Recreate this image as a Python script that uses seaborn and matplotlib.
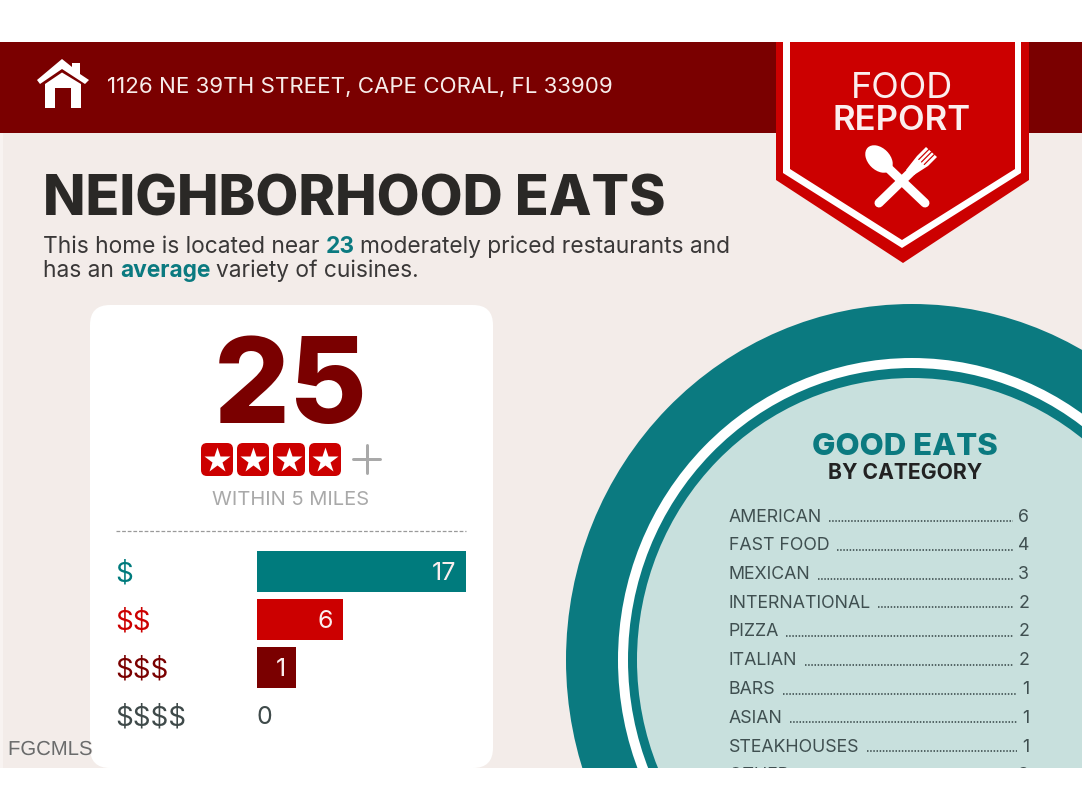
import matplotlib
matplotlib.use('Agg')
import matplotlib.pyplot as plt
import matplotlib.patheffects as pe
from matplotlib.patches import Ellipse, FancyBboxPatch, Polygon, Rectangle
import pandas as pd
import seaborn as sns

# price tiers: printed counts, and bar lengths as drawn on the 0-17 axis
price_tiers = ['$', '$$', '$$$', '$$$$']
tier_counts = [17, 6, 1, 0]
bar_lengths = [17, 7.0, 3.17, 0]

# good eats by category (last row is cut off in the picture)
categories = ['AMERICAN', 'FAST FOOD', 'MEXICAN', 'INTERNATIONAL', 'PIZZA',
              'ITALIAN', 'BARS', 'ASIAN', 'STEAKHOUSES', 'OTHER']
category_counts = [6, 4, 3, 2, 2, 2, 1, 1, 1, 3]

DARK_RED = '#7a0000'
RED = '#cc0000'
TEAL = '#0b7a80'
PALE_TEAL = '#c8e0dd'
BACKGROUND = '#f3ecE9'
INK = '#2a2826'
SLATE = '#3f4f50'
GREY = '#a9a9a9'
tier_colors = ['#007b7d', RED, DARK_RED, '#3f4a4a']

sns.set_theme(style='white')
plt.rcParams['font.family'] = ['Inter', 'DejaVu Sans']
plt.rcParams['text.parse_math'] = False  # the dollar labels are plain text

W, H = 1082, 811
fig = plt.figure(figsize=(W / 100, H / 100), dpi=100, facecolor='white')

# overlay in image pixels for the infographic furniture
ax = fig.add_axes([0, 0, 1, 1], zorder=0)
ax.set_xlim(0, W)
ax.set_ylim(H, 0)
ax.axis('off')


def px(size):
    # pixel lengths to points at 100 dpi
    return size * 0.72


def text_runs(x, y, runs, size):
    """Draw bits of text one after another on a baseline."""
    renderer = fig.canvas.get_renderer()
    inv = ax.transData.inverted()
    for s, color, weight in runs:
        t = ax.text(x, y, s, fontsize=size, color=color, fontweight=weight,
                    va='baseline', ha='left', zorder=3)
        box = t.get_window_extent(renderer)
        x = inv.transform((box.x1, box.y0))[0] + size * 0.36


# page background and header band
ax.add_patch(Rectangle((0, 133), W, 635, fc=BACKGROUND, ec='none', zorder=1))
ax.add_patch(Rectangle((0, 133), 3, 635, fc='#f8f3f1', ec='none', zorder=1))
ax.add_patch(Rectangle((0, 42), W, 91, fc=DARK_RED, ec='none', zorder=1))

# house icon
roof = [(37, 80), (62, 59), (72, 67), (72, 63), (80, 63), (80, 74), (89, 80),
        (85, 84), (62, 69), (40, 84)]
body = [(45, 108), (45, 84), (62, 72.5), (81, 84), (81, 108), (71, 108),
        (71, 88), (55, 88), (55, 108)]
ax.add_patch(Polygon(roof, fc='white', ec='none', zorder=2))
ax.add_patch(Polygon(body, fc='white', ec='none', zorder=2))
ax.text(107, 93, '1126 NE 39TH STREET, CAPE CORAL, FL 33909', fontsize=16.07,
        color='#f7ecea', va='baseline', zorder=2)

# food report ribbon
ax.add_patch(Polygon([(776, 42), (1029, 42), (1029, 180), (903, 263), (776, 180)],
                     fc=RED, ec='none', zorder=2))
ax.add_patch(Polygon([(783, 42), (790, 42), (790, 169), (902, 240), (1015, 169),
                      (1015, 42), (1021, 42), (1021, 173), (902, 248), (783, 173)],
                     fc='white', ec='none', zorder=3))
ax.text(902, 98, 'FOOD', fontsize=26, color='#fbeeee', ha='center', va='baseline', zorder=3)
ax.text(902, 130, 'REPORT', fontsize=25, color='#fbeeee', fontweight='semibold',
        ha='center', va='baseline', zorder=3)
# fork under the spoon
ax.plot([879, 912], [203, 171], color='white', lw=px(9), solid_capstyle='round', zorder=3)
ax.add_patch(Polygon([(906, 170), (917, 156), (926, 147), (937, 157), (928, 166), (914, 175)],
                     fc='white', ec='none', zorder=3))
for tip_x, tip_y in [(928.75, 149.5), (931.5, 152), (934.25, 154.5)]:
    ax.plot([tip_x, tip_x - 10], [tip_y, tip_y + 10], color=RED, lw=px(1.2), zorder=3)
ax.plot([885, 925], [165, 203], color='white', lw=px(9), solid_capstyle='round', zorder=3)
ax.add_patch(Ellipse((879, 159), 32, 22, angle=45, fc='white', ec='none', zorder=3))

# headline
ax.text(43, 215, 'NEIGHBORHOOD EATS', fontsize=40, color=INK, fontweight=800,
        va='baseline', zorder=3)
text_runs(43, 253, [('This home is located near', '#3a3838', 'normal'),
                    ('23', TEAL, 'bold'),
                    ('moderately priced restaurants and', '#3a3838', 'normal')], 16.4)
text_runs(43, 277, [('has an', '#3a3838', 'normal'),
                    ('average', TEAL, 'bold'),
                    ('variety of cuisines.', '#3a3838', 'normal')], 16.4)

# card
ax.add_patch(FancyBboxPatch((110, 325), 363, 423, boxstyle='round,pad=20,rounding_size=20',
                            fc='white', ec='none', zorder=2))
ax.text(291, 423, '25', fontsize=86, color=DARK_RED, fontweight='heavy', ha='center',
        va='baseline', zorder=3)
for i in range(4):
    ax.add_patch(FancyBboxPatch((206 + i * 36, 448), 22, 23, boxstyle='round,pad=5,rounding_size=6',
                                fc=RED, ec='none', zorder=3))
    ax.plot(217 + i * 36, 459.5, marker='*', ms=px(27), mfc='white', mec='none', zorder=4)
ax.plot([353, 380], [459, 459], color=GREY, lw=px(3), zorder=3)
ax.plot([366.5, 366.5], [445, 473], color=GREY, lw=px(3), zorder=3)
ax.text(291, 505, 'WITHIN 5 MILES', fontsize=14.5, color=GREY, ha='center', va='baseline', zorder=3)
ax.plot([116, 466], [531, 531], color='#9a9a9a', lw=0.9, ls=(0, (3, 1.5)), zorder=3)

# plate with the category list
centre = (912, 660)
for rx, ry, col in [(346, 356, TEAL), (294, 302, 'white'), (284, 292, TEAL), (275, 282, PALE_TEAL)]:
    ax.add_patch(Ellipse(centre, rx * 2, ry * 2, fc=col, ec='none', zorder=2))
ax.text(905, 455, 'GOOD EATS', fontsize=22.5, color=TEAL, fontweight=800, ha='center',
        va='baseline', zorder=3)
ax.text(905, 479, 'BY CATEGORY', fontsize=15.2, color='#222222', fontweight='bold', ha='center',
        va='baseline', zorder=3)

fig.canvas.draw()
renderer = fig.canvas.get_renderer()
inv = ax.transData.inverted()
for i, (name, count) in enumerate(zip(categories, category_counts)):
    y = 521.5 + i * 28.75
    label = ax.text(729, y, name, fontsize=12.8, color=SLATE, va='baseline', zorder=3)
    value = ax.text(1029, y, str(count), fontsize=12.8, color=SLATE, ha='right', va='baseline', zorder=3)
    x0 = inv.transform((label.get_window_extent(renderer).x1, 0))[0] + 7
    x1 = inv.transform((value.get_window_extent(renderer).x0, 0))[0] - 5
    ax.plot([x0, x1], [y - 0.5, y - 0.5], color=SLATE, lw=1.2, ls=(0, (0.9, 1.0)), zorder=3)

# thin scan edge on the right, white margin under the picture
ax.plot([1081.5, 1081.5], [133, 768], color='#9c9c9c', lw=0.7, zorder=5)
ax.add_patch(Rectangle((0, 768), W, H - 768, fc='white', ec='none', zorder=6))
ax.text(8, 755, 'FGCMLS', fontsize=14.6, color='#6b6b6b', family='Liberation Sans', va='baseline',
        zorder=7, path_effects=[pe.withStroke(linewidth=1.2, foreground='#f4f0ee')])

# price tier bars
bar_ax = fig.add_axes([257 / W, 1 - 739.5 / H, 209 / W, 192 / H], zorder=2)
tiers = pd.DataFrame({'tier': price_tiers, 'length': bar_lengths, 'count': tier_counts})
sns.barplot(data=tiers, x='length', y='tier', hue='tier', palette=tier_colors, legend=False,
            width=0.85, saturation=1, linewidth=0, ax=bar_ax)
bar_ax.set_xlim(0, 17)
bar_ax.patch.set_alpha(0)
bar_ax.set_xlabel('')
bar_ax.set_ylabel('')
bar_ax.xaxis.set_visible(False)
sns.despine(ax=bar_ax, left=True, bottom=True)
bar_ax.tick_params(axis='y', length=0, pad=px(142), labelsize=20)
for tick, col in zip(bar_ax.get_yticklabels(), tier_colors):
    tick.set_ha('left')
    tick.set_color(col)
for i, row in tiers.iterrows():
    if row['count'] > 0:
        bar_ax.annotate(str(row['count']), (row['length'], i), xytext=(-px(10), 0),
                        textcoords='offset points', ha='right', va='center_baseline',
                        color='#fbeeee', fontsize=18)
    else:
        bar_ax.annotate(str(row['count']), (row['length'], i), xytext=(0, 0),
                        textcoords='offset points', ha='left', va='center_baseline',
                        color=tier_colors[i], fontsize=18)

fig.savefig('out.png', dpi=100)
